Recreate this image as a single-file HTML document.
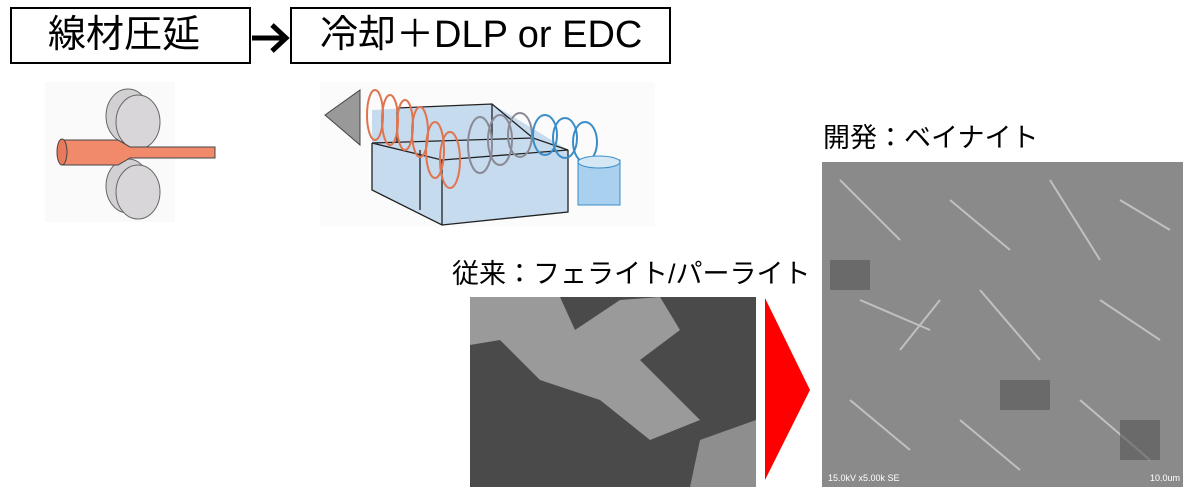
<!DOCTYPE html>
<html><head><meta charset="utf-8"><style>
body{margin:0;width:1200px;height:491px;background:#fff;position:relative;overflow:hidden;font-family:"Liberation Sans","Noto Sans CJK JP",sans-serif}
.box{position:absolute;border:2px solid #000;box-sizing:border-box;font-size:38px;line-height:52px;white-space:nowrap}
.t{position:absolute;font-size:27px;white-space:nowrap;color:#000}
</style></head><body>
<div class="box" style="left:10px;top:7px;width:241px;height:57px;padding-left:36px">線材圧延</div>
<div class="box" style="left:290px;top:7px;width:381px;height:57px;padding-left:28px">冷却＋DLP or EDC</div>
<svg style="position:absolute;left:0;top:0" width="1200" height="491">
<line x1="252" y1="38" x2="284" y2="38" stroke="#000" stroke-width="5"/>
<polyline points="272,25 286,38 272,51" fill="none" stroke="#000" stroke-width="5"/>
<rect x="45" y="82" width="130" height="140" fill="#fafafa"/>
<ellipse cx="128" cy="116" rx="22" ry="27" fill="#d3d0d3" stroke="#666"/>
<ellipse cx="138" cy="122" rx="22" ry="27" fill="#d9d6d9" stroke="#666"/>
<ellipse cx="128" cy="186" rx="22" ry="27" fill="#d3d0d3" stroke="#666"/>
<ellipse cx="138" cy="192" rx="22" ry="27" fill="#d9d6d9" stroke="#666"/>
<path d="M62 140 L118 140 L130 147 L215 147 L215 158 L130 158 L118 165 L62 165 Z" fill="#f08a6b" stroke="#444"/>
<ellipse cx="62" cy="152" rx="5" ry="13" fill="#e87a5c" stroke="#444"/>
<rect x="320" y="82" width="335" height="145" fill="#fbfbfb"/>
<path d="M372 110 L492 104 L568 150 L568 212 L442 225 L372 190 Z" fill="#b9d3ea" opacity="0.8"/>
<g fill="none" stroke="#222" stroke-width="1.3">
<path d="M372 143 L533 138 L568 150 L442 160 L372 143 M372 143 L372 190 L442 225 L568 212 L568 150 M442 160 L442 225"/>
<path d="M397 108 L492 104 L533 138 M397 108 L397 143 M492 104 L492 140 M420 150 L420 210"/>
</g>
<path d="M325 115 L360 90 L360 145 Z" fill="#999" stroke="#444"/>
<g fill="none" stroke="#e0744f" stroke-width="2">
<ellipse cx="375" cy="115" rx="8" ry="25"/><ellipse cx="390" cy="120" rx="8" ry="25"/><ellipse cx="405" cy="125" rx="8" ry="25"/><ellipse cx="420" cy="132" rx="8" ry="25"/><ellipse cx="435" cy="150" rx="9" ry="28"/><ellipse cx="450" cy="160" rx="10" ry="28"/>
</g>
<g fill="none" stroke="#8a8a96" stroke-width="2">
<ellipse cx="480" cy="145" rx="12" ry="28"/><ellipse cx="500" cy="140" rx="12" ry="25"/><ellipse cx="520" cy="135" rx="12" ry="22"/>
</g>
<g fill="none" stroke="#3a8ec8" stroke-width="2">
<ellipse cx="545" cy="135" rx="12" ry="20"/><ellipse cx="565" cy="138" rx="12" ry="20"/><ellipse cx="585" cy="142" rx="12" ry="20"/>
</g>
<rect x="578" y="160" width="42" height="45" fill="#a9d0ee" stroke="#3a8ec8"/>
<ellipse cx="599" cy="162" rx="21" ry="6" fill="#d4e7f5" stroke="#3a8ec8"/>
<rect x="470" y="297" width="286" height="190" fill="#4a4a4a"/>
<path d="M470 297 L560 297 L575 330 L620 300 L660 297 L680 330 L640 360 L700 420 L650 440 L600 400 L540 380 L500 340 L470 345 Z" fill="#9a9a9a"/>
<path d="M700 440 L756 420 L756 487 L690 487 Z" fill="#8e8e8e"/>
<polygon points="765,298 810,390 765,480" fill="#ff0000"/>
<rect x="822" y="162" width="361" height="325" fill="#8a8a8a"/>
<g stroke="#d8d8d8" stroke-width="2" opacity="0.7">
<path d="M840 180 L900 240 M950 200 L1010 250 M1050 180 L1100 260 M860 300 L930 330 M980 290 L1040 360 M1100 300 L1160 340 M850 400 L910 450 M960 420 L1020 470 M1080 400 L1150 460 M900 350 L940 300 M1120 200 L1170 230"/>
</g>
<g fill="#555" opacity="0.6">
<rect x="830" y="260" width="40" height="30"/><rect x="1000" y="380" width="50" height="30"/><rect x="1120" y="420" width="40" height="40"/>
</g>
<text x="828" y="481" font-size="9" fill="#fff" font-family="Liberation Sans">15.0kV x5.00k SE</text>
<text x="1150" y="481" font-size="9" fill="#fff" font-family="Liberation Sans">10.0um</text>
</svg>
<div class="t" style="left:452px;top:252px">従来：フェライト/パーライト</div>
<div class="t" style="left:823px;top:116px">開発：ベイナイト</div>
</body></html>
